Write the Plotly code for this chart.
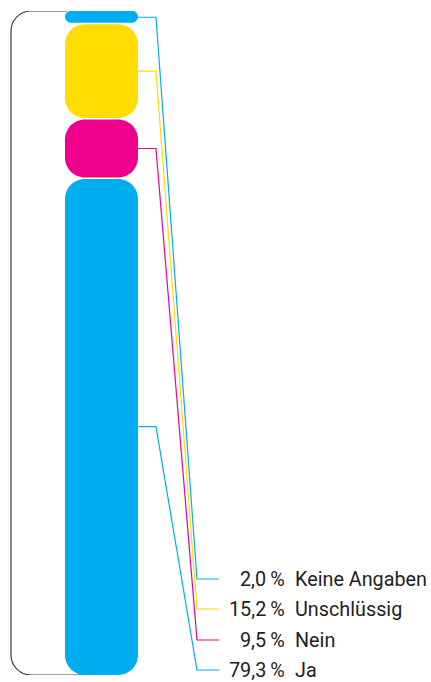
import plotly.graph_objects as go

# Survey answers, listed top to bottom as stacked in the column
categories = ["Keine Angaben", "Unschlüssig", "Nein", "Ja"]
values = [2.0, 15.2, 9.5, 79.3]
colors = ["#00AEEF", "#FFDD00", "#EC008C", "#00AEEF"]

W, H = 431, 682
M_TOP, M_BOT = 11, 7
total = sum(values)
plot_h = H - M_TOP - M_BOT
ky = plot_h / total          # pixels per percentage point (vertical)


def px_to_y(p):
    """Screen pixel row -> value on the (reversed) y axis."""
    return (p - M_TOP) / ky


BAR_X0, BAR_X1 = 65, 138
CORNER_PX = 20
GAP_PX = 0.8
K = 0.5523


def rounded_rect(x0, x1, y0, y1, rx, ry):
    return (
        f"M {x0 + rx},{y0} L {x1 - rx},{y0} "
        f"C {x1 - rx + K * rx},{y0} {x1},{y0 + ry - K * ry} {x1},{y0 + ry} "
        f"L {x1},{y1 - ry} "
        f"C {x1},{y1 - ry + K * ry} {x1 - rx + K * rx},{y1} {x1 - rx},{y1} "
        f"L {x0 + rx},{y1} "
        f"C {x0 + rx - K * rx},{y1} {x0},{y1 - ry + K * ry} {x0},{y1 - ry} "
        f"L {x0},{y0 + ry} "
        f"C {x0},{y0 + ry - K * ry} {x0 + rx - K * rx},{y0} {x0 + rx},{y0} Z"
    )


shapes = []

# bracket enclosing the whole column on the left
r_br = 20
x_br = 11
ry_br = r_br / ky
shapes.append(dict(
    type="path", xref="x", yref="y", layer="below",
    path=(
        f"M {BAR_X0 + 2},0 L {x_br + r_br},0 "
        f"C {x_br + r_br - K * r_br},0 {x_br},{ry_br - K * ry_br} {x_br},{ry_br} "
        f"L {x_br},{total - ry_br} "
        f"C {x_br},{total - ry_br + K * ry_br} {x_br + r_br - K * r_br},{total} {x_br + r_br},{total} "
        f"L {BAR_X0 + 25},{total}"
    ),
    line=dict(color="#3c3c3c", width=1.2),
))

# stacked rounded segments
starts = []
acc = 0.0
for v in values:
    starts.append(acc)
    acc += v

mids = []
for i, (v, s, c) in enumerate(zip(values, starts, colors)):
    y0 = s + (GAP_PX / ky if i > 0 else 0)
    y1 = s + v - (GAP_PX / ky if i < len(values) - 1 else 0)
    h_px = (y1 - y0) * ky
    r_px = min(CORNER_PX, h_px / 2, (BAR_X1 - BAR_X0) / 2)
    shapes.append(dict(
        type="path", xref="x", yref="y", layer="below",
        path=rounded_rect(BAR_X0, BAR_X1, y0, y1, r_px, r_px / ky),
        fillcolor=c, line=dict(width=0),
    ))
    mids.append(s + v / 2)

fig = go.Figure()

# leader lines from each segment to its label row
label_rows_px = [579, 609, 640, 670]
label_y = [px_to_y(p) for p in label_rows_px]
for m, ly, c in zip(mids, label_y, colors):
    fig.add_trace(go.Scatter(
        x=[BAR_X1, 156, 197, 219], y=[m, m, ly, ly],
        mode="lines", line=dict(color=c, width=1.2),
        hoverinfo="skip", showlegend=False,
    ))

annotations = []
font = dict(family="Roboto, Liberation Sans, sans-serif", size=19.8, color="#222222")
for cat, v, ly in zip(categories, values, label_y):
    pct = f"{v:.1f}".replace(".", ",") + "\u2009%"
    annotations.append(dict(x=287, y=ly, xref="x", yref="y", text=pct,
                            showarrow=False, xanchor="right", yanchor="middle", font=font))
    annotations.append(dict(x=293, y=ly, xref="x", yref="y", text=cat,
                            showarrow=False, xanchor="left", yanchor="middle", font=font))

fig.update_layout(
    width=W, height=H,
    margin=dict(l=0, r=0, t=M_TOP, b=M_BOT),
    paper_bgcolor="white", plot_bgcolor="white",
    xaxis=dict(range=[0, W], visible=False, fixedrange=True),
    yaxis=dict(range=[total, 0], visible=False, fixedrange=True),
    shapes=shapes, annotations=annotations,
    showlegend=False,
)

fig.write_html("out.html", config={"displayModeBar": False})
